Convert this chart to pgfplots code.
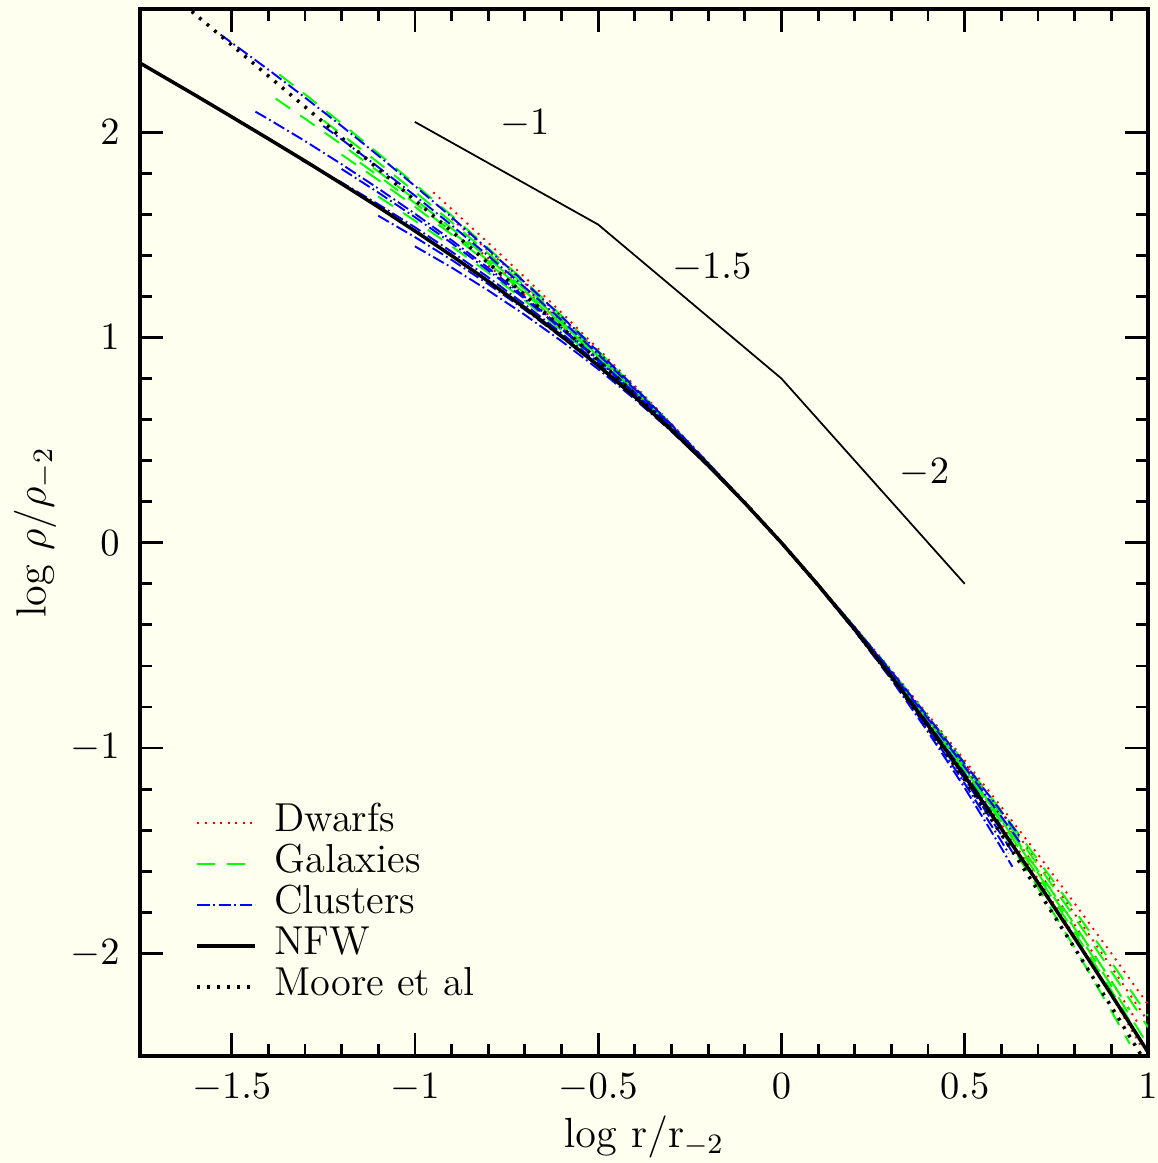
\documentclass[border=0pt]{standalone}
\usepackage{pgfplots}
\pgfplotsset{compat=1.18}

\definecolor{paper}{RGB}{255,255,240}
\pgfplotsset{
  dwarf/.style={red, line width=0.55pt, dash pattern=on 0.55pt off 1.6pt},
  galaxy/.style={green, line width=0.55pt, dash pattern=on 5pt off 3.5pt},
  cluster/.style={blue, line width=0.55pt, dash pattern=on 3.5pt off 1pt on 0.5pt off 1pt},
}

\begin{document}
\begin{tikzpicture}
\path[use as bounding box, fill=paper] (-1.40,-1.07) rectangle (10.18,10.56);
\begin{axis}[
  scale only axis,
  width=10.08cm, height=10.47cm,
  xmin=-1.75, xmax=1, ymin=-2.5, ymax=2.6,
  xtick={-1.5,-1,-0.5,0,0.5,1},
  ytick={-2,-1,0,1,2},
  minor x tick num=4,
  minor y tick num=4,
  major tick length=0.23cm,
  minor tick length=0.12cm,
  tick style={black, line width=0.8pt},
  axis line style={line width=0.9pt},
  tick label style={font=\fontsize{10.5}{12}\selectfont},
  xticklabel style={yshift=-0.05cm},
  yticklabel style={xshift=-0.08cm},
  xlabel={$\log\,\mathrm{r}/\mathrm{r}_{-2}$},
  ylabel={$\log\,\rho/\rho_{-2}$},
  label style={font=\fontsize{12}{14}\selectfont},
  xlabel style={at={(axis description cs:0.5,-0.077)}, anchor=center},
  ylabel style={at={(axis description cs:-0.104,0.5)}, anchor=center},
  legend image code/.code={\draw[#1] (0cm,0cm) -- (0.58cm,0cm);},
  legend cell align=left,
  legend style={draw=none, fill=none, inner sep=0pt,
    at={(axis description cs:0.0546,0.2426)}, anchor=north west,
    font=\fontsize{11.5}{13}\selectfont,
    nodes={inner sep=0pt, text height=0.29cm, text depth=0.12cm},
    column sep=0.17cm},
]
% dwarfs
\addplot[dwarf] coordinates {(-0.95,1.707) (-0.9,1.626) (-0.8,1.461) (-0.7,1.293) (-0.6,1.121) (-0.5,0.944) (-0.4,0.764) (-0.3,0.579) (-0.2,0.391) (-0.1,0.198) (0,0) (0.1,-0.202) (0.2,-0.409) (0.3,-0.621) (0.4,-0.838) (0.5,-1.060) (0.6,-1.287) (0.7,-1.519) (0.8,-1.757) (0.9,-2.000) (1.0,-2.249)};
\addlegendentry{Dwarfs}
\addplot[dwarf, forget plot] coordinates {(-0.9,1.578) (-0.8,1.423) (-0.7,1.263) (-0.6,1.098) (-0.5,0.929) (-0.4,0.754) (-0.3,0.574) (-0.2,0.388) (-0.1,0.197) (0,0) (0.1,-0.203) (0.2,-0.412) (0.3,-0.628) (0.4,-0.850) (0.5,-1.078) (0.6,-1.314) (0.7,-1.557) (0.8,-1.808) (0.9,-2.066) (1.0,-2.332)};
\addplot[dwarf, forget plot] coordinates {(-0.85,1.460) (-0.8,1.386) (-0.7,1.234) (-0.6,1.077) (-0.5,0.913) (-0.4,0.744) (-0.3,0.568) (-0.2,0.385) (-0.1,0.197) (0,0) (0.1,-0.204) (0.2,-0.415) (0.3,-0.635) (0.4,-0.862) (0.5,-1.098) (0.6,-1.343) (0.7,-1.597) (0.8,-1.861) (0.9,-2.135) (0.97,-2.333)};
\addplot[dwarf, forget plot] coordinates {(-0.8,1.350) (-0.7,1.206) (-0.6,1.056) (-0.5,0.898) (-0.4,0.734) (-0.3,0.562) (-0.2,0.383) (-0.1,0.196) (0,0) (0.1,-0.204) (0.2,-0.418) (0.3,-0.641) (0.4,-0.874) (0.5,-1.118) (0.6,-1.372) (0.7,-1.638) (0.8,-1.916) (0.9,-2.206) (0.98,-2.448)};
% galaxies
\addplot[galaxy] coordinates {(-1.37,2.281) (-1.3,2.185) (-1.2,2.043) (-1.1,1.897) (-1.0,1.747) (-0.9,1.594) (-0.8,1.435) (-0.7,1.273) (-0.6,1.106) (-0.5,0.934) (-0.4,0.757) (-0.3,0.575) (-0.2,0.389) (-0.1,0.198) (0,0) (0.1,-0.203) (0.2,-0.411) (0.3,-0.625) (0.4,-0.846) (0.5,-1.073) (0.6,-1.305) (0.7,-1.545) (0.8,-1.791) (0.9,-2.043) (1.0,-2.304)};
\addlegendentry{Galaxies}
\addplot[galaxy, forget plot] coordinates {(-1.38,2.164) (-1.3,2.066) (-1.2,1.940) (-1.1,1.809) (-1.0,1.673) (-0.9,1.532) (-0.8,1.386) (-0.7,1.234) (-0.6,1.077) (-0.5,0.913) (-0.4,0.744) (-0.3,0.568) (-0.2,0.385) (-0.1,0.197) (0,0) (0.1,-0.204) (0.2,-0.415) (0.3,-0.635) (0.4,-0.862) (0.5,-1.098) (0.6,-1.343) (0.7,-1.597) (0.8,-1.861) (0.9,-2.135) (0.95,-2.275)};
\addplot[galaxy, forget plot] coordinates {(-1.25,2.058) (-1.2,1.990) (-1.1,1.852) (-1.0,1.710) (-0.9,1.562) (-0.8,1.410) (-0.7,1.253) (-0.6,1.091) (-0.5,0.924) (-0.4,0.751) (-0.3,0.572) (-0.2,0.387) (-0.1,0.197) (0,0) (0.1,-0.203) (0.2,-0.413) (0.3,-0.630) (0.4,-0.854) (0.5,-1.085) (0.6,-1.324) (0.7,-1.570) (0.8,-1.825) (0.9,-2.088) (1.0,-2.360)};
\addplot[galaxy, forget plot] coordinates {(-1.2,1.891) (-1.1,1.767) (-1.0,1.637) (-0.9,1.502) (-0.8,1.362) (-0.7,1.215) (-0.6,1.063) (-0.5,0.903) (-0.4,0.737) (-0.3,0.564) (-0.2,0.384) (-0.1,0.196) (0,0) (0.1,-0.204) (0.2,-0.417) (0.3,-0.639) (0.4,-0.870) (0.5,-1.111) (0.6,-1.362) (0.7,-1.624) (0.8,-1.897) (0.9,-2.181) (0.95,-2.328)};
\addplot[galaxy, forget plot] coordinates {(-1.1,1.687) (-1.0,1.569) (-0.9,1.445) (-0.8,1.316) (-0.7,1.179) (-0.6,1.035) (-0.5,0.884) (-0.4,0.724) (-0.3,0.557) (-0.2,0.381) (-0.1,0.195) (0,0) (0.1,-0.205) (0.2,-0.421) (0.3,-0.648) (0.4,-0.887) (0.5,-1.138) (0.6,-1.402) (0.7,-1.680) (0.8,-1.973) (0.9,-2.281) (0.95,-2.440)};
\addplot[galaxy, forget plot] coordinates {(-1.15,1.852) (-1.1,1.788) (-1.0,1.655) (-0.9,1.517) (-0.8,1.374) (-0.7,1.225) (-0.6,1.069) (-0.5,0.908) (-0.4,0.740) (-0.3,0.566) (-0.2,0.385) (-0.1,0.196) (0,0) (0.1,-0.204) (0.2,-0.416) (0.3,-0.637) (0.4,-0.866) (0.5,-1.105) (0.6,-1.352) (0.7,-1.610) (0.8,-1.879) (0.9,-2.158) (1.0,-2.448)};
% clusters
\addplot[cluster] coordinates {(-1.53,2.475) (-1.5,2.436) (-1.4,2.305) (-1.3,2.169) (-1.2,2.030) (-1.1,1.886) (-1.0,1.738) (-0.9,1.586) (-0.8,1.429) (-0.7,1.268) (-0.6,1.102) (-0.5,0.931) (-0.4,0.755) (-0.3,0.575) (-0.2,0.388) (-0.1,0.197) (0,0) (0.1,-0.203) (0.2,-0.412) (0.3,-0.627) (0.4,-0.848) (0.5,-1.076) (0.6,-1.310) (0.65,-1.429)};
\addlegendentry{Clusters}
\addplot[cluster, forget plot] coordinates {(-1.435,2.100) (-1.4,2.064) (-1.3,1.957) (-1.2,1.844) (-1.1,1.726) (-1.0,1.603) (-0.9,1.474) (-0.8,1.339) (-0.7,1.197) (-0.6,1.048) (-0.5,0.893) (-0.4,0.730) (-0.3,0.560) (-0.2,0.382) (-0.1,0.195) (0,0) (0.1,-0.205) (0.2,-0.419) (0.3,-0.644) (0.4,-0.879) (0.5,-1.124) (0.6,-1.382)};
\addplot[cluster, forget plot] coordinates {(-1.31,1.865) (-1.2,1.755) (-1.1,1.649) (-1.0,1.537) (-0.9,1.418) (-0.8,1.293) (-0.7,1.161) (-0.6,1.021) (-0.5,0.874) (-0.4,0.718) (-0.3,0.553) (-0.2,0.379) (-0.1,0.195) (0,0) (0.1,-0.206) (0.2,-0.423) (0.3,-0.653) (0.4,-0.895) (0.5,-1.152) (0.6,-1.423) (0.63,-1.507)};
\addplot[cluster, forget plot] coordinates {(-1.25,2.030) (-1.2,1.965) (-1.1,1.830) (-1.0,1.691) (-0.9,1.547) (-0.8,1.398) (-0.7,1.244) (-0.6,1.084) (-0.5,0.918) (-0.4,0.747) (-0.3,0.570) (-0.2,0.386) (-0.1,0.196) (0,0) (0.1,-0.203) (0.2,-0.414) (0.3,-0.632) (0.4,-0.858) (0.5,-1.092) (0.6,-1.334) (0.65,-1.458)};
\addplot[cluster, forget plot] coordinates {(-1.2,1.821) (-1.1,1.706) (-1.0,1.586) (-0.9,1.460) (-0.8,1.327) (-0.7,1.188) (-0.6,1.041) (-0.5,0.888) (-0.4,0.728) (-0.3,0.558) (-0.2,0.381) (-0.1,0.195) (0,0) (0.1,-0.205) (0.2,-0.420) (0.3,-0.646) (0.4,-0.883) (0.5,-1.131) (0.6,-1.392)};
\addplot[cluster, forget plot] coordinates {(-1.1,1.593) (-1.0,1.489) (-0.9,1.378) (-0.8,1.260) (-0.7,1.135) (-0.6,1.001) (-0.5,0.860) (-0.4,0.708) (-0.3,0.547) (-0.2,0.376) (-0.1,0.194) (0,0) (0.1,-0.206) (0.2,-0.426) (0.3,-0.659) (0.4,-0.908) (0.5,-1.173) (0.6,-1.454) (0.62,-1.513)};
\addplot[cluster, forget plot] coordinates {(-1.0,1.444) (-0.9,1.341) (-0.8,1.229) (-0.7,1.110) (-0.6,0.982) (-0.5,0.846) (-0.4,0.699) (-0.3,0.542) (-0.2,0.373) (-0.1,0.193) (0,0) (0.1,-0.207) (0.2,-0.429) (0.3,-0.667) (0.4,-0.922) (0.5,-1.194) (0.6,-1.487) (0.63,-1.578)};
% NFW
\addplot[black, line width=1pt] coordinates {(-1.75,2.337) (-1.7,2.285) (-1.6,2.181) (-1.5,2.075) (-1.4,1.968) (-1.3,1.860) (-1.2,1.749) (-1.1,1.636) (-1.0,1.519) (-0.9,1.399) (-0.8,1.274) (-0.7,1.144) (-0.6,1.007) (-0.5,0.863) (-0.4,0.711) (-0.3,0.549) (-0.2,0.377) (-0.1,0.194) (0,0) (0.1,-0.206) (0.2,-0.423) (0.3,-0.651) (0.4,-0.889) (0.5,-1.137) (0.6,-1.393) (0.7,-1.656) (0.8,-1.926) (0.9,-2.201) (1.0,-2.481)};
\addlegendentry{NFW}
% Moore et al
\addplot[black, line width=1pt, dash pattern=on 0.8pt off 2pt] coordinates {(-1.65,2.650) (-1.6,2.575) (-1.5,2.425) (-1.4,2.274) (-1.3,2.124) (-1.2,1.973) (-1.1,1.821) (-1.0,1.669) (-0.9,1.517) (-0.8,1.363) (-0.7,1.207) (-0.6,1.050) (-0.5,0.889) (-0.4,0.725) (-0.3,0.555) (-0.2,0.379) (-0.1,0.195) (0,0) (0.1,-0.206) (0.2,-0.424) (0.3,-0.656) (0.4,-0.900) (0.5,-1.155) (0.6,-1.420) (0.7,-1.694) (0.8,-1.975) (0.9,-2.260) (1.0,-2.550)};
\addlegendentry{Moore et al}
% slope guide
\addplot[black, line width=0.5pt, forget plot] coordinates {(-1,2.05) (-0.5,1.55) (0,0.80) (0.5,-0.20)};
\node[font=\fontsize{10.5}{12}\selectfont] at (axis cs:-0.70,2.04) {$-1$};
\node[font=\fontsize{10.5}{12}\selectfont] at (axis cs:-0.19,1.34) {$-1.5$};
\node[font=\fontsize{10.5}{12}\selectfont] at (axis cs:0.39,0.34) {$-2$};
\end{axis}
\end{tikzpicture}
\end{document}
